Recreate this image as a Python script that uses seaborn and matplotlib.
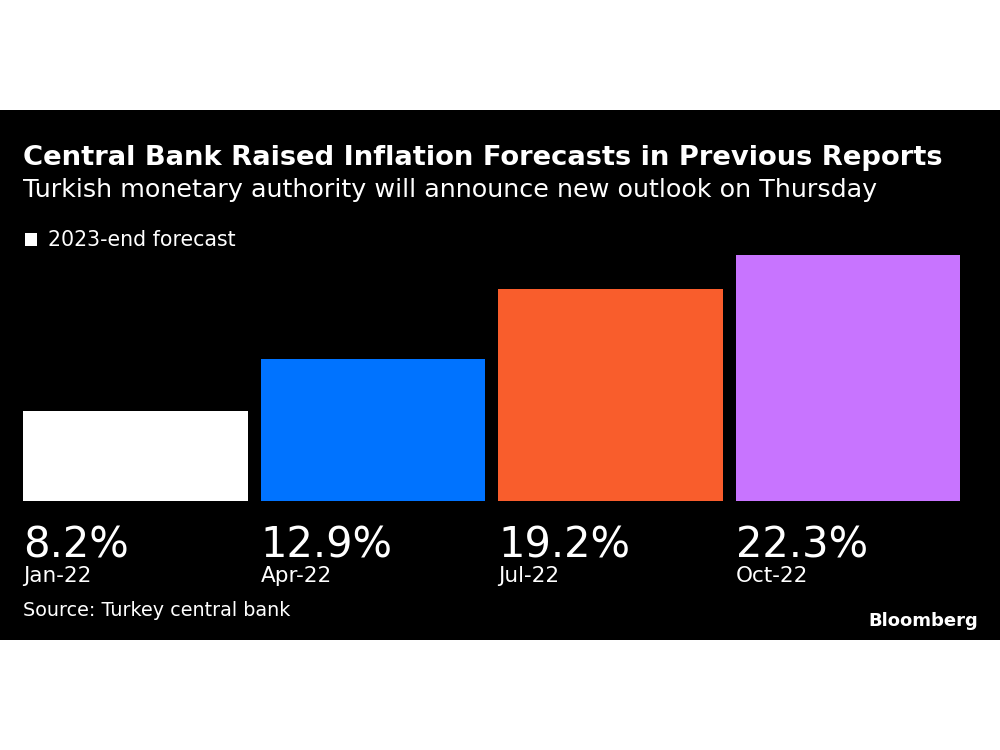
import matplotlib
matplotlib.use("Agg")
import matplotlib.pyplot as plt
import seaborn as sns
import pandas as pd
from matplotlib.patches import Rectangle

# data
dates = ["Jan-22", "Apr-22", "Jul-22", "Oct-22"]
forecast = [8.2, 12.9, 19.2, 22.3]
bar_colors = ["#ffffff", "#0073ff", "#f95d2c", "#c874ff"]

title = "Central Bank Raised Inflation Forecasts in Previous Reports"
subtitle = "Turkish monetary authority will announce new outlook on Thursday"
legend_label = "2023-end forecast"
source = "Source: Turkey central bank"

sns.set_theme(style="white")
plt.rcParams["font.family"] = ["DejaVu Sans"]

W, H = 1000, 750
fig = plt.figure(figsize=(10, 7.5), dpi=100, facecolor="white")

# black panel behind everything
fig.patches.append(Rectangle((0, 1 - 640 / H), 1, 530 / H, transform=fig.transFigure,
                             facecolor="black", edgecolor="none", zorder=-10))

# axes: baseline at y=501px, 11.03 px per unit
ax = fig.add_axes([16.75 / W, 1 - 501 / H, 950 / W, 25 * 11.03 / H])
ax.set_facecolor("none")
ax.set_zorder(5)

df = pd.DataFrame({"date": dates, "value": forecast})
sns.barplot(data=df, x="date", y="value", hue="date", palette=bar_colors,
            width=0.947, saturation=1, legend=False, linewidth=0, ax=ax)
ax.set_xlim(-0.5, 3.5)
ax.set_ylim(0, 25)
ax.set_axis_off()

# value + date labels under each bar
for i, (d, v) in enumerate(zip(dates, forecast)):
    x_left = i - 0.947 / 2
    ax.text(x_left, -5.1, f"{v}%", color="white", fontsize=30,
            ha="left", va="baseline", transform=ax.transData, clip_on=False)
    ax.text(x_left, -7.35, d, color="white", fontsize=15.5,
            ha="left", va="baseline", transform=ax.transData, clip_on=False)

def fy(py):
    return 1 - py / H

fig.text(23 / W, fy(158), title, color="white", fontsize=19.7, fontweight="bold",
         ha="left", va="center")
fig.text(23 / W, fy(190), subtitle, color="white", fontsize=18.3,
         ha="left", va="center")

fig.patches.append(Rectangle((25 / W, fy(246)), 12 / W, 13 / H, transform=fig.transFigure,
                             facecolor="white", edgecolor="none"))
fig.text(48 / W, fy(240), legend_label, color="white", fontsize=14.8,
         ha="left", va="center")

fig.text(23 / W, fy(611), source, color="white", fontsize=13.8,
         ha="left", va="center")
fig.text(978 / W, fy(621), "Bloomberg", color="white", fontsize=13, fontweight="bold",
         ha="right", va="center")

fig.savefig("out.png", dpi=100, facecolor="white")
